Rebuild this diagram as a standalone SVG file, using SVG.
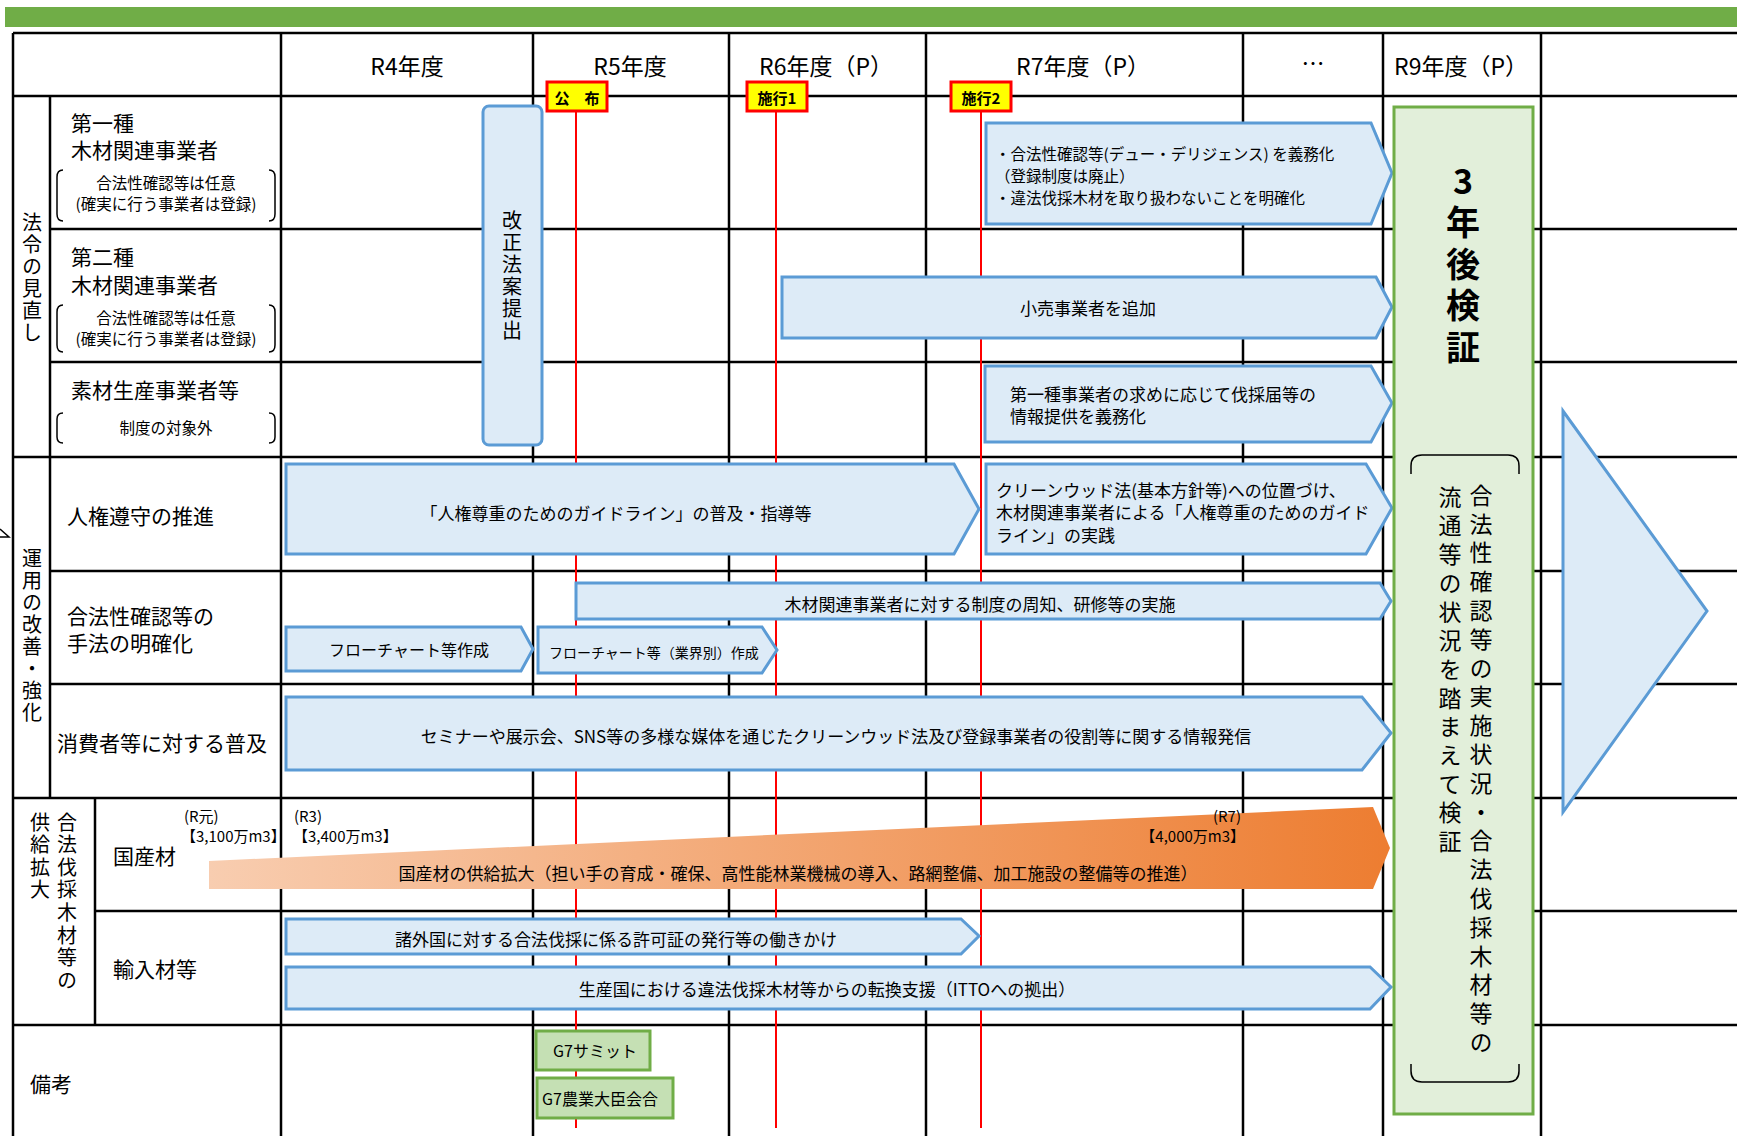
<svg xmlns="http://www.w3.org/2000/svg" width="1737" height="1136" viewBox="0 0 1737 1136">
<style>
.g{stroke:#000;stroke-width:2.5;fill:none}
.rl{stroke:#FF0000;stroke-width:2;fill:none}
.ar{fill:#DDEBF7;stroke:#5B9BD5;stroke-width:3}
.yl{fill:#FFFF00;stroke:#FF0000;stroke-width:3}
.gb{fill:#C5E0B4;stroke:#70AD47;stroke-width:3}
.br{stroke:#000;stroke-width:1.5;fill:none}
text{font-family:"Noto Sans CJK JP","Noto Sans",sans-serif;fill:#000;dominant-baseline:central}
.h{font-size:23px;text-anchor:middle}
.lb{font-size:21px}
.sm{font-size:15.5px;text-anchor:middle}
.t{font-size:17px}
.c{text-anchor:middle}
.vt{writing-mode:vertical-rl;text-orientation:upright;font-size:20px;letter-spacing:2px}
.n{font-size:15px}
</style>
<defs>
<linearGradient id="og" x1="0" y1="0" x2="1" y2="0">
<stop offset="0" stop-color="#F8CDB0"/>
<stop offset="1" stop-color="#ED7D31"/>
</linearGradient>
</defs>
<rect id="topbar" x="5" y="7" width="1732" height="20" fill="#70AD47"/>
<g id="grid">
<path class="g" d="M13,33H1737M13,96H1737M50,229H1737M50,362H1737M13,457H1737M50,571H1737M50,684H1737M13,798H1737M95,911H1737M13,1025H1737"/>
<path class="g" d="M13,33V1136M50,96V798M95,798V1025M281,33V1136M533,33V1136M729,33V1136M926,33V1136M1243,33V1136M1383,33V1136M1541,33V1136"/>
<path class="br" d="M0,529L9,537H0"/>
</g>
<g id="connectors">
<path class="rl" d="M576,111V1128M776,111V1128M981,111V1128"/>
</g>
<g id="header">
<text class="h" x="407" y="65">R4年度</text>
<text class="h" x="630" y="65">R5年度</text>
<text class="h" x="826" y="65">R6年度（P）</text>
<text class="h" x="1083" y="65">R7年度（P）</text>
<text class="h" x="1313" y="62">…</text>
<text class="h" x="1461" y="65">R9年度（P）</text>
</g>
<g id="row-labels">
<text class="vt" x="32" y="212">法令の見直し</text>
<text class="lb" x="71" y="122">第一種</text>
<text class="lb" x="71" y="149">木材関連事業者</text>
<text class="sm" x="166" y="182">合法性確認等は任意</text>
<text class="sm" x="166" y="203">(確実に行う事業者は登録)</text>
<path class="br" d="M63,170Q57,170 57,177V214Q57,221 63,221M269,170Q275,170 275,177V214Q275,221 269,221"/>
<text class="lb" x="71" y="256">第二種</text>
<text class="lb" x="71" y="284">木材関連事業者</text>
<text class="sm" x="166" y="317">合法性確認等は任意</text>
<text class="sm" x="166" y="338">(確実に行う事業者は登録)</text>
<path class="br" d="M63,305Q57,305 57,312V345Q57,352 63,352M269,305Q275,305 275,312V345Q275,352 269,352"/>
<text class="lb" x="71" y="389">素材生産事業者等</text>
<text class="sm" x="166" y="427">制度の対象外</text>
<path class="br" d="M63,413Q57,413 57,419V437Q57,443 63,443M269,413Q275,413 275,419V437Q275,443 269,443"/>
<text class="vt" x="32" y="548">運用の改善・強化</text>
<text class="lb" x="67" y="515">人権遵守の推進</text>
<text class="lb" x="67" y="615">合法性確認等の</text>
<text class="lb" x="67" y="642">手法の明確化</text>
<text class="lb" x="57" y="742">消費者等に対する普及</text>
<text class="vt" x="67" y="812" style="letter-spacing:2.6px">合法伐採木材等の</text>
<text class="vt" x="40" y="812" style="letter-spacing:2.6px">供給拡大</text>
<text class="lb" x="113" y="855">国産材</text>
<text class="lb" x="113" y="968">輸入材等</text>
<text class="lb" x="30" y="1083">備考</text>
</g>
<g id="bill">
<rect class="ar" x="483" y="106" width="59" height="339" rx="6"/>
<text class="vt" x="512" y="210">改正法案提出</text>
</g>
<g id="a-duty">
<polygon class="ar" points="986,123 1371,123 1392,173 1371,224 986,224"/>
<text class="t" style="font-size:15.5px" x="995" y="153">・合法性確認等(デュー・デリジェンス) を義務化</text>
<text class="t" style="font-size:15.5px" x="995" y="175">（登録制度は廃止）</text>
<text class="t" style="font-size:15.5px" x="995" y="197">・違法伐採木材を取り扱わないことを明確化</text>
</g>
<g id="a-retail">
<polygon class="ar" points="782,277 1376,277 1392,307 1376,338 782,338"/>
<text class="t c" x="1088" y="307">小売事業者を追加</text>
</g>
<g id="a-info">
<polygon class="ar" points="985,366 1371,366 1392,403 1371,442 985,442"/>
<text class="t" x="1010" y="393">第一種事業者の求めに応じて伐採届等の</text>
<text class="t" x="1010" y="415">情報提供を義務化</text>
</g>
<g id="a-hr">
<polygon class="ar" points="286,464 954,464 979,509 954,554 286,554"/>
<text class="t c" x="616" y="512">「人権尊重のためのガイドライン」の普及・指導等</text>
</g>
<g id="a-cw">
<polygon class="ar" points="986,464 1366,464 1392,508 1366,554 986,554"/>
<text class="t" x="996" y="489">クリーンウッド法(基本方針等)への位置づけ、</text>
<text class="t" x="996" y="511">木材関連事業者による「人権尊重のためのガイド</text>
<text class="t" x="996" y="534">ライン」の実践</text>
</g>
<g id="a-training">
<polygon class="ar" points="576,583 1380,583 1391,601 1380,619 576,619"/>
<text class="t c" x="980" y="603">木材関連事業者に対する制度の周知、研修等の実施</text>
</g>
<g id="a-flow1">
<polygon class="ar" points="286,627 521,627 533,649 521,671 286,671"/>
<text class="t c" style="font-size:16px" x="409" y="649">フローチャート等作成</text>
</g>
<g id="a-flow2">
<polygon class="ar" points="538,627 762,627 777,650 762,673 538,673"/>
<text class="t" style="font-size:14px" x="549" y="652">フローチャート等（業界別）作成</text>
</g>
<g id="a-seminar">
<polygon class="ar" points="286,697 1362,697 1391,733 1362,770 286,770"/>
<text class="t c" x="836" y="735">セミナーや展示会、SNS等の多様な媒体を通じたクリーンウッド法及び登録事業者の役割等に関する情報発信</text>
</g>
<g id="a-domestic">
<polygon fill="url(#og)" points="209,861 1373,807 1390,848 1373,889 209,889"/>
<text class="t c" x="798" y="872">国産材の供給拡大（担い手の育成・確保、高性能林業機械の導入、路網整備、加工施設の整備等の推進）</text>
<text class="n" x="184" y="815">(R元)</text>
<text class="n" x="181" y="835">【3,100万m3】</text>
<text class="n" x="294" y="815">(R3)</text>
<text class="n" x="293" y="835">【3,400万m3】</text>
<text class="n" x="1241" y="815" text-anchor="end">(R7)</text>
<text class="n" x="1245" y="835" text-anchor="end">【4,000万m3】</text>
</g>
<g id="a-foreign">
<polygon class="ar" points="286,919 961,919 979,936 961,954 286,954"/>
<text class="t c" x="616" y="938">諸外国に対する合法伐採に係る許可証の発行等の働きかけ</text>
</g>
<g id="a-itto">
<polygon class="ar" points="286,967 1370,967 1391,987 1370,1009 286,1009"/>
<text class="t c" x="827" y="988">生産国における違法伐採木材等からの転換支援（ITTOへの拠出）</text>
</g>
<g id="g7-summit">
<rect class="gb" x="536" y="1031" width="114" height="39"/>
<text class="t" style="font-size:16px" x="553" y="1050">G7サミット</text>
</g>
<g id="g7-agri">
<rect class="gb" x="537" y="1078" width="136" height="40"/>
<text class="t" style="font-size:16px" x="542" y="1098">G7農業大臣会合</text>
</g>
<g id="review">
<rect x="1394" y="107" width="139" height="1007" fill="#E2EFDA" stroke="#70AD47" stroke-width="3"/>
<text class="vt" x="1463" y="164" style="font-size:34px;font-weight:700;letter-spacing:7.5px">3年後検証</text>
<path class="br" d="M1411,474V466Q1411,455 1422,455H1508Q1519,455 1519,466V474"/>
<path class="br" d="M1411,1064V1071Q1411,1082 1422,1082H1508Q1519,1082 1519,1071V1064"/>
<text class="vt" x="1481" y="483.5" style="font-size:23px;letter-spacing:5.8px">合法性確認等の実施状況・合法伐採木材等の</text>
<text class="vt" x="1450" y="485.5" style="font-size:23px;letter-spacing:5.7px">流通等の状況を踏まえて検証</text>
</g>
<g id="big-arrow">
<polygon class="ar" points="1563,411 1707,611 1563,812"/>
</g>
<g id="milestones">
<rect class="yl" x="547" y="82" width="60" height="29"/>
<text class="c" style="font-size:15px;font-weight:700" x="577" y="97">公　布</text>
<rect class="yl" x="747" y="82" width="60" height="29"/>
<text class="c" style="font-size:15px;font-weight:700" x="777" y="97">施行1</text>
<rect class="yl" x="951" y="82" width="60" height="29"/>
<text class="c" style="font-size:15px;font-weight:700" x="981" y="97">施行2</text>
</g>
</svg>
